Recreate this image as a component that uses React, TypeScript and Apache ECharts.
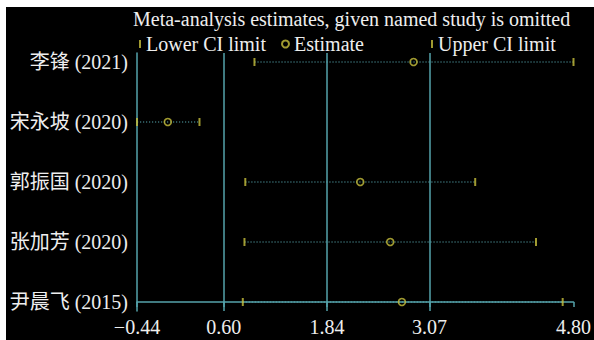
import React, { useEffect, useRef } from "react";
import * as echarts from "echarts";

// Leave-one-out sensitivity analysis: pooled estimate with each study removed
const studies = ["李锋 (2021)", "宋永坡 (2020)", "郭振国 (2020)", "张加芳 (2020)", "尹晨飞 (2015)"];
const lowerCI = [0.97, -0.44, 0.86, 0.85, 0.83];
const estimates = [2.88, -0.07, 2.24, 2.6, 2.74];
const upperCI = [4.8, 0.31, 3.62, 4.35, 4.67];

const xTickValues = [-0.44, 0.6, 1.84, 3.07, 4.8];
const xTickLabels = ["\u22120.44", "0.60", "1.84", "3.07", "4.80"];
const refLines = [0.6, 1.84, 3.07];

const TEAL = "#55a3ab";
const YELLOW = "#c8c03c";
const TEXT = "#eeeeee";
const FONT = "'Liberation Serif', 'Times New Roman', 'Noto Sans CJK SC', serif";
const FS = 20;

export default function App() {
  const ref = useRef<HTMLDivElement>(null);

  useEffect(() => {
    if (!ref.current) return;
    const chart = echarts.init(ref.current, undefined, { renderer: "svg" });

    // top row sits at the highest y value
    const rowY = studies.map((_, i) => studies.length - 1 - i);

    const ciLines = studies.map((_, i) => ({
      name: "ci-" + i,
      type: "line",
      data: [
        [lowerCI[i], rowY[i]],
        [upperCI[i], rowY[i]],
      ],
      symbol: "none",
      silent: true,
      z: 2,
      lineStyle: { color: TEAL, width: 1.2, type: [1.2, 1.8] },
    }));

    const legendText = { color: TEXT, fontSize: FS, fontFamily: FONT };

    chart.setOption({
      animation: false,
      backgroundColor: "#000000",
      textStyle: { fontFamily: FONT },
      title: {
        text: "Meta-analysis estimates, given named study is omitted",
        left: 133,
        top: 9,
        padding: 0,
        textStyle: { color: TEXT, fontSize: FS, fontWeight: "normal", fontFamily: FONT },
      },
      legend: [
        {
          data: ["Lower CI limit"],
          left: 139,
          top: 34,
          padding: 0,
          itemWidth: 2,
          itemHeight: 8,
          textStyle: legendText,
        },
        {
          data: ["Estimate"],
          left: 281,
          top: 34,
          padding: 0,
          itemWidth: 7,
          itemHeight: 7,
          textStyle: legendText,
        },
        {
          data: ["Upper CI limit"],
          left: 431,
          top: 34,
          padding: 0,
          itemWidth: 2,
          itemHeight: 8,
          textStyle: legendText,
        },
      ],
      grid: { left: 137, right: 19, top: 53, bottom: 29, containLabel: false },
      xAxis: {
        type: "value",
        min: -0.44,
        max: 4.8,
        axisLine: { show: true, lineStyle: { color: TEAL, width: 1.5 } },
        axisTick: {
          show: true,
          length: 5,
          customValues: xTickValues,
          lineStyle: { color: TEAL, width: 1.5 },
        },
        axisLabel: {
          customValues: xTickValues,
          showMinLabel: true,
          showMaxLabel: true,
          margin: 6,
          color: TEXT,
          fontSize: FS,
          fontFamily: FONT,
          formatter: (v: number) => {
            const idx = xTickValues.findIndex((t) => Math.abs(t - v) < 1e-6);
            return idx >= 0 ? xTickLabels[idx] : "";
          },
        },
        splitLine: { show: false },
      },
      yAxis: {
        type: "value",
        min: -0.15,
        max: 4.15,
        axisLine: { show: true, onZero: false, lineStyle: { color: TEAL, width: 1.5 } },
        axisTick: { show: false },
        axisLabel: {
          customValues: rowY,
          margin: 9,
          color: TEXT,
          fontSize: FS,
          fontFamily: FONT,
          formatter: (v: number) => studies[studies.length - 1 - Math.round(v)] ?? "",
        },
        splitLine: { show: false },
      },
      graphic: [
        { type: "rect", shape: { x: 0, y: 0, width: 594, height: 7 }, style: { fill: "#ffffff" }, z: 100 },
        { type: "rect", shape: { x: 0, y: 0, width: 6, height: 340 }, style: { fill: "#ffffff" }, z: 100 },
      ],
      series: [
        {
          name: "ref-lines",
          type: "line",
          data: [],
          silent: true,
          markLine: {
            silent: true,
            symbol: "none",
            label: { show: false },
            lineStyle: { color: TEAL, width: 1.5, type: "solid" },
            data: refLines.map((x) => ({ xAxis: x })),
          },
        },
        ...ciLines,
        {
          name: "Lower CI limit",
          type: "scatter",
          symbol: "rect",
          symbolSize: [2, 8],
          z: 5,
          itemStyle: { color: YELLOW },
          data: lowerCI.map((v, i) => [v, rowY[i]]),
        },
        {
          name: "Estimate",
          type: "scatter",
          symbol: "circle",
          symbolSize: 7,
          z: 5,
          itemStyle: { color: "rgba(0,0,0,0)", borderColor: YELLOW, borderWidth: 1.6 },
          data: estimates.map((v, i) => [v, rowY[i]]),
        },
        {
          name: "Upper CI limit",
          type: "scatter",
          symbol: "rect",
          symbolSize: [2, 8],
          z: 5,
          itemStyle: { color: YELLOW },
          data: upperCI.map((v, i) => [v, rowY[i]]),
        },
      ],
    });

    return () => chart.dispose();
  }, []);

  return (
    <div
      ref={ref}
      style={{ position: "fixed", left: 0, top: 0, width: 594, height: 340 }}
    />
  );
}
